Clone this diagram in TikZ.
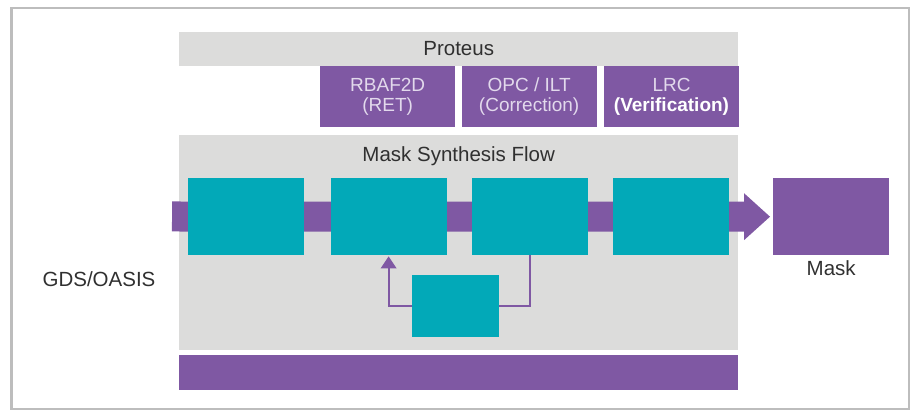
\documentclass[tikz,border=0pt]{standalone}
\usepackage{fontspec}
\setmainfont{Liberation Sans}
\usetikzlibrary{positioning,arrows.meta}
\definecolor{gbox}{HTML}{DCDCDB}
\definecolor{pbox}{HTML}{7F58A3}
\definecolor{tbox}{HTML}{02A9B8}
\definecolor{txt}{HTML}{303030}
\definecolor{ltxt}{HTML}{E2D9EC}
\definecolor{frame}{HTML}{BDBDBD}

\begin{document}
\begin{tikzpicture}[x=1pt,y=-1pt,font=\fontsize{20.5}{22}\selectfont,text=txt,
    gbar/.style={fill=gbox,inner sep=0pt,anchor=north west,minimum width=559pt},
    tool/.style={fill=pbox,text=ltxt,inner sep=0pt,minimum width=135pt,minimum height=61pt,
      align=center,font=\fontsize{19}{20}\selectfont},
    stage/.style={fill=tbox,inner sep=0pt,minimum width=116pt,minimum height=77pt},
    loopline/.style={draw=pbox,line width=2pt},
    flow/.style={draw=pbox,line width=30pt,-{Triangle[length=26pt,width=47pt,line width=0pt]}}]
  \useasboundingbox (0,0) rectangle (916,411);
  \draw[frame,line width=2.5pt] (11.5,8) rectangle (909,409);

  % tools on top
  \node[gbar,minimum height=34pt] (proteus) at (179,31.5) {Proteus};
  \node[tool,anchor=north west] (ret) at (320,66) {RBAF2D\\(RET)};
  \node[tool,right=6pt of ret] (opc) {OPC / ILT\\(Correction)};
  \node[tool,right=7pt of opc] (lrc) {LRC\\\textcolor{white}{\bfseries(Verification)}};

  % flow area
  \node[gbar,minimum height=215pt] (msf) at (179,135) {};
  \node[below=8.5pt of msf.north] (msftxt) {Mask Synthesis Flow};
  \node[gbar,fill=pbox,minimum height=35pt] (base) at (179,355) {};

  \node[fill=pbox,inner sep=0pt,minimum width=116pt,minimum height=77pt,anchor=north west] (mask) at (773,178) {};
  \node[below=2pt of mask] (masktxt) {Mask};
  \node (gds) at (99,279) {GDS/OASIS};
  \coordinate (src) at (172,216.5);

  \draw[flow,shorten >=3pt] (src) -- (mask.west);

  % stages
  \node[stage,anchor=north west] (s1) at (188,178) {};
  \node[stage,right=26pt of s1] (s2) {};
  \node[stage,right=25pt of s2] (s3) {};
  \node[stage,right=25pt of s3] (s4) {};
  \node[fill=tbox,inner sep=0pt,minimum width=87pt,minimum height=62pt,anchor=north west] (chk) at (412,275) {};

  %s3>chk>s2
  \draw[loopline] (s3.south) |- (chk.east);
  \draw[loopline,shorten >=1pt,-{Triangle[length=12pt,width=16pt,line width=0pt]}] (chk.west) -| (s2.south);
\end{tikzpicture}
\end{document}
